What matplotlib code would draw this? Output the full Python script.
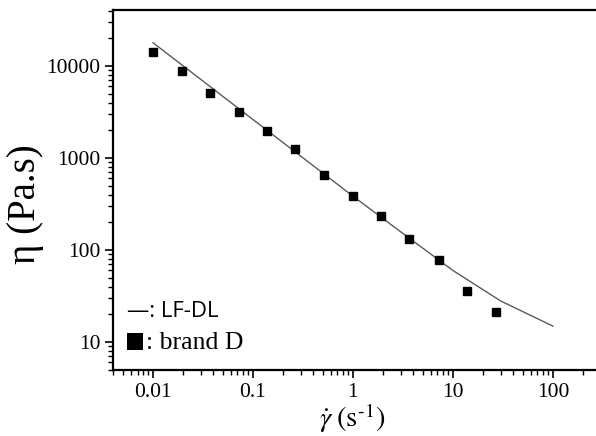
import numpy as np
import matplotlib
matplotlib.use("Agg")
import matplotlib.pyplot as plt
from matplotlib.patches import Rectangle
from matplotlib.ticker import LogLocator, FixedLocator, FixedFormatter, NullFormatter

# measured points (brand D)
shear_rate = [0.01, 0.0195, 0.037, 0.072, 0.138, 0.265, 0.51, 0.99, 1.9, 3.66, 7.2, 13.9, 26.9]
viscosity = [14300, 8760, 5090, 3140, 1970, 1250, 658, 390, 234, 131, 77, 36, 21]

# LF-DL model curve
model_rate = [0.01, 0.03, 0.1, 0.3, 1, 3, 10, 30, 100]
model_visc = [17900, 7160, 2620, 1050, 385, 158, 60, 28, 14.9]

x_ticks = [0.01, 0.1, 1, 10, 100]
x_labels = ["0.01", "0.1", "1", "10", "100"]
y_ticks = [10, 100, 1000, 10000]
y_labels = ["10", "100", "1000", "10000"]

plt.rcParams["font.family"] = ["Liberation Serif", "DejaVu Serif"]
plt.rcParams["mathtext.fontset"] = "stix"

W, H = 596, 436
fig = plt.figure(figsize=(W / 100, H / 100), dpi=100)
ax = fig.add_axes([113 / W, (H - 370) / H, (W - 113) / W, 360 / H])

ax.plot(model_rate, model_visc, color="#5a5a5a", lw=1.0)
ax.plot(shear_rate, viscosity, "s", color="black", ms=6, mec="black")

ax.set_xscale("log")
ax.set_yscale("log")
ax.set_xlim(0.00398, 270)
ax.set_ylim(4.97, 40600)

ax.xaxis.set_major_locator(FixedLocator(x_ticks))
ax.xaxis.set_major_formatter(FixedFormatter(x_labels))
ax.yaxis.set_major_locator(FixedLocator(y_ticks))
ax.yaxis.set_major_formatter(FixedFormatter(y_labels))
ax.xaxis.set_minor_locator(LogLocator(base=10, subs=np.arange(2, 10), numticks=20))
ax.yaxis.set_minor_locator(LogLocator(base=10, subs=np.arange(2, 10), numticks=20))
ax.xaxis.set_minor_formatter(NullFormatter())
ax.yaxis.set_minor_formatter(NullFormatter())

ax.tick_params(which="major", direction="out", length=6, width=1.2, labelsize=15.5, pad=3)
ax.tick_params(which="minor", direction="out", length=3.5, width=1.0)
ax.tick_params(axis="x", pad=3.5)

ax.spines["right"].set_visible(False)
for s in ["left", "bottom", "top"]:
    ax.spines[s].set_linewidth(1.6)

ax.set_ylabel("η (Pa.s)", fontsize=28)
ax.yaxis.set_label_coords(-0.143, 0.461)
ax.set_xlabel(r"$\dot{\gamma}\;(\mathrm{s}^{\text{-}1})$", fontsize=20.5)
ax.xaxis.set_label_coords(0.495, -0.086)

# hand-made legend
fig.text(127 / W, (H - 317) / H, "—: LF-DL", fontsize=16, family=["Open Sans", "DejaVu Sans"],
         va="baseline", ha="left")
fig.patches.append(Rectangle((127 / W, (H - 350) / H), 16 / W, 17 / H, transform=fig.transFigure,
                             facecolor="black", edgecolor="none"))
fig.text(146 / W, (H - 349) / H, ": brand D", fontsize=18.5, va="baseline", ha="left")

fig.savefig("out.png", dpi=100)
